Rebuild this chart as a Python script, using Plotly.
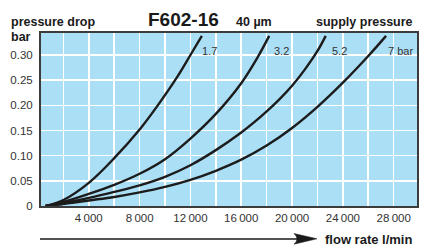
import plotly.graph_objects as go

# ---- data ----
supply_pressures = ["1.7", "3.2", "5.2", "7 bar"]
flow_17 = [600, 2000, 4000, 6000, 8000, 9400, 11000, 12000, 12900]
drop_17 = [0.0, 0.012, 0.046, 0.095, 0.152, 0.199, 0.258, 0.300, 0.338]
flow_32 = [600, 2000, 4000, 6000, 8000, 10000, 12000, 14000, 16000, 17300, 18200]
drop_32 = [0.0, 0.008, 0.024, 0.042, 0.064, 0.093, 0.134, 0.183, 0.244, 0.296, 0.338]
flow_52 = [600, 2000, 4000, 6000, 8000, 10000, 12000, 14000, 16000, 17000, 18000, 19000, 20000, 21000, 22000, 22650]
drop_52 = [0.0, 0.006, 0.016, 0.028, 0.041, 0.058, 0.081, 0.111, 0.146, 0.166, 0.188, 0.212, 0.239, 0.271, 0.308, 0.338]
flow_7 = [600, 2000, 4000, 6000, 8000, 10000, 12000, 14000, 16000, 18000, 20000, 22000, 24000, 26000, 27400]
drop_7 = [0.0, 0.004, 0.011, 0.018, 0.027, 0.038, 0.052, 0.070, 0.092, 0.120, 0.155, 0.197, 0.245, 0.298, 0.338]
series = [(flow_17, drop_17), (flow_32, drop_32), (flow_52, drop_52), (flow_7, drop_7)]
label_pos = [(12765, 0.307), (18444, 0.307), (23000, 0.307), (27400, 0.307)]

x_tickvals = list(range(2000, 30000, 2000))
x_ticktext = [("%d\u2009%03d" % (v // 1000, v % 1000)) if v % 4000 == 0 else "" for v in x_tickvals]
y_tickvals = [0, 0.05, 0.10, 0.15, 0.20, 0.25, 0.30]
y_ticktext = ["0", "0.05", "0.10", "0.15", "0.20", "0.25", "0.30"]

FONT = "Liberation Sans, Arial, Helvetica, sans-serif"
fig = go.Figure()
for (fx, fy) in series:
    fig.add_trace(go.Scatter(x=fx, y=fy, mode="lines",
                             line=dict(color="#1c1c1c", width=2.4, shape="spline", smoothing=1.0),
                             hoverinfo="skip", showlegend=False))

for name, (lx, ly) in zip(supply_pressures, label_pos):
    fig.add_annotation(x=lx, y=ly, text=name, showarrow=False, xanchor="left", yanchor="middle",
                       font=dict(family=FONT, size=11, color="#333"))

L, R, T, B = 41, 20, 33, 42
W, H = 437, 248
pw, ph = W - L - R, H - T - B
def px(xp): return (xp - L) / pw
def py(yp): return (H - B - yp) / ph

def txt(text, x, y, size, anchor="left", bold=True):
    fig.add_annotation(xref="paper", yref="paper", x=px(x), y=py(y), text=("<b>%s</b>" % text) if bold else text,
                       showarrow=False, xanchor=anchor, yanchor="middle",
                       font=dict(family=FONT, size=size, color="#1a1a1a"))

txt("pressure drop", 9, 22, 12.5)
txt("bar", 9, 37, 12.5)
txt("F602-16", 146, 20, 19)
txt("40 µm", 234, 22, 12.5)
txt("supply pressure", 415, 22, 12.5, anchor="right")
txt("flow rate l/min", 323, 239, 13)

# arrow
fig.add_shape(type="line", xref="paper", yref="paper", x0=px(40), x1=px(300), y0=py(239), y1=py(239),
              line=dict(color="#1a1a1a", width=1.3))
fig.add_shape(type="path", xref="paper", yref="paper",
              path="M %f %f L %f %f L %f %f Q %f %f %f %f Z" % (
                  px(294), py(233.5), px(317), py(238.8), px(294), py(244.2), px(300), py(238.8), px(294), py(233.5)),
              fillcolor="#1a1a1a", line=dict(color="#1a1a1a", width=0.5))

fig.update_layout(
    width=W, height=H, margin=dict(l=L, r=R, t=T, b=B, autoexpand=False),
    paper_bgcolor="white", plot_bgcolor="#abdff6",
    font=dict(family=FONT, size=11.5, color="#333"),
    xaxis=dict(range=[236, 29835], tickvals=x_tickvals, ticktext=x_ticktext, showgrid=True,
               gridcolor="white", gridwidth=1.6, zeroline=False, showline=True, mirror=True,
               linecolor="#3c3c3c", linewidth=2, ticks="", ticklabelstandoff=0, automargin=False,
               tickfont=dict(family=FONT, size=11.5, color="#333")),
    yaxis=dict(range=[0, 0.3437], tickvals=y_tickvals, ticktext=y_ticktext, showgrid=True,
               gridcolor="white", gridwidth=1.6, zeroline=False, showline=True, mirror=True,
               linecolor="#3c3c3c", linewidth=2, ticks="", ticklabelstandoff=4, automargin=False,
               tickfont=dict(family=FONT, size=11.5, color="#333")),
)
fig.write_html("out.html", config={"displayModeBar": False, "staticPlot": True},
               post_script="document.body.style.margin='0';document.body.style.overflow='hidden';")
